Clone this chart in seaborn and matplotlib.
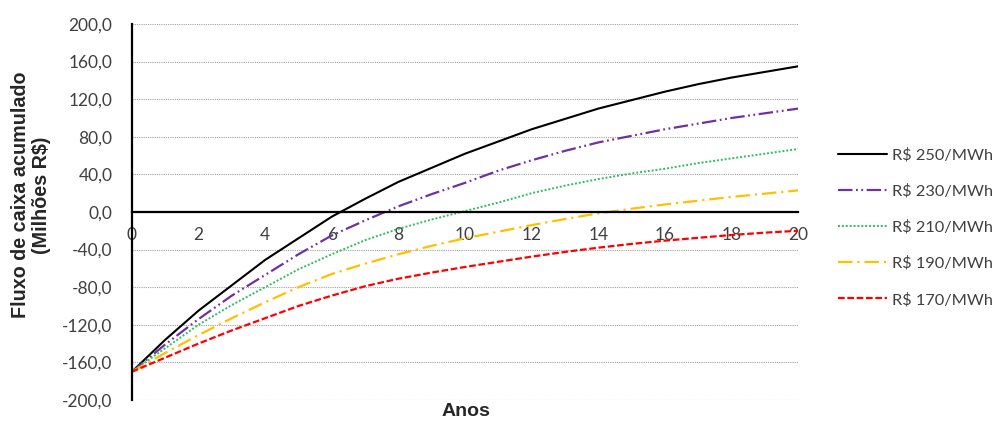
import matplotlib

matplotlib.use("Agg")
import matplotlib.pyplot as plt
import numpy as np
import pandas as pd
import seaborn as sns

# Accumulated cash flow (millions R$) per year
anos = list(range(0, 21))
fluxo_250 = [-170, -136, -105, -78, -51, -28, -5, 14, 32, 47, 62,
             75, 88, 99, 110, 119, 128, 136, 143, 149, 155]
fluxo_230 = [-170, -141, -114, -89, -67, -45, -25, -9, 6, 19, 31,
             44, 55, 65, 74, 81, 88, 94, 100, 105, 110]
fluxo_210 = [-170, -145, -120, -99, -80, -61, -45, -30, -18, -8, 1,
             10, 20, 28, 35, 41, 46, 52, 57, 62, 67]
fluxo_190 = [-170, -150, -131, -113, -96, -80, -66, -55, -45, -36, -28,
             -21, -14, -7.5, -1.5, 3.5, 8, 12, 16, 19.5, 23]
fluxo_170 = [-170, -155, -140, -126, -113, -100, -89, -79, -71, -64.5, -58.5,
             -53, -47.5, -42.5, -38, -34, -30.5, -27.5, -24.5, -22, -20]
rotulos = ["R$ 250/MWh", "R$ 230/MWh", "R$ 210/MWh", "R$ 190/MWh", "R$ 170/MWh"]
y_ticks = list(range(-200, 201, 40))
x_ticks = list(range(0, 21, 2))

series = [fluxo_250, fluxo_230, fluxo_210, fluxo_190, fluxo_170]
cores = ["#000000", "#7030A0", "#2DBE60", "#FFC000", "#FF0000"]
estilos = [
    "-",
    (0, (6.5, 1.6, 0.8, 1.6, 0.8, 1.6)),
    (0, (1.0, 1.0)),
    (0, (6.5, 2.2, 1.0, 2.2)),
    (0, (3.0, 1.2)),
]
larguras = [1.5, 1.6, 1.4, 1.6, 1.6]

sns.set_style("white")
plt.rcParams["font.family"] = ["Lato", "DejaVu Sans"]

df = pd.DataFrame({"ano": anos})
for lab, vals in zip(rotulos, series):
    df[lab] = vals

fig = plt.figure(figsize=(9.99, 4.21), dpi=100)
ax = fig.add_axes([0.132, 0.050, 0.667, 0.893])

for lab, cor, ls, lw in zip(rotulos, cores, estilos, larguras):
    sns.lineplot(data=df, x="ano", y=lab, color=cor, linestyle=ls, lw=lw,
                 label=lab, ax=ax)

ax.set_xlim(0, 20)
ax.set_ylim(-200, 200)
ax.set_xticks(x_ticks)
ax.set_yticks(y_ticks)
ax.set_yticklabels([f"{v:.1f}".replace(".", ",") for v in y_ticks])
ax.set_xlabel("")
ax.set_ylabel("")
ax.yaxis.grid(True, color="#A0A0A0", linestyle=(0, (1, 1)), lw=0.8)
ax.xaxis.grid(False)

for s in ("top", "right"):
    ax.spines[s].set_visible(False)
ax.spines["bottom"].set_position(("data", 0))
ax.spines["bottom"].set_color("black")
ax.spines["bottom"].set_linewidth(1.6)
ax.spines["bottom"].set_zorder(5)
ax.spines["left"].set_color("black")
ax.spines["left"].set_linewidth(1.6)

ax.tick_params(axis="x", length=0, pad=11, labelsize=12.5, colors="#404040")
ax.tick_params(axis="y", length=0, pad=14, labelsize=12.5, colors="#404040")

fig.text(466 / 999, 1 - 411 / 421, "Anos", ha="center", va="center",
         fontsize=14, fontweight="bold", family="Liberation Sans")
fig.text(31 / 999, 1 - 195 / 421, "Fluxo de caixa acumulado\n(Milhões R$)",
         ha="center", va="center", rotation=90, fontsize=14.2,
         fontweight="bold", family="Liberation Sans", linespacing=1.1)

ax.legend(loc="upper left", bbox_to_anchor=(838 / 999, 1 - 148 / 421),
          bbox_transform=fig.transFigure, frameon=False, fontsize=11.8,
          handlelength=3.0, handletextpad=0.3, labelspacing=1.32,
          labelcolor="#404040", borderaxespad=0, borderpad=0)

fig.savefig("out.png", dpi=100)
